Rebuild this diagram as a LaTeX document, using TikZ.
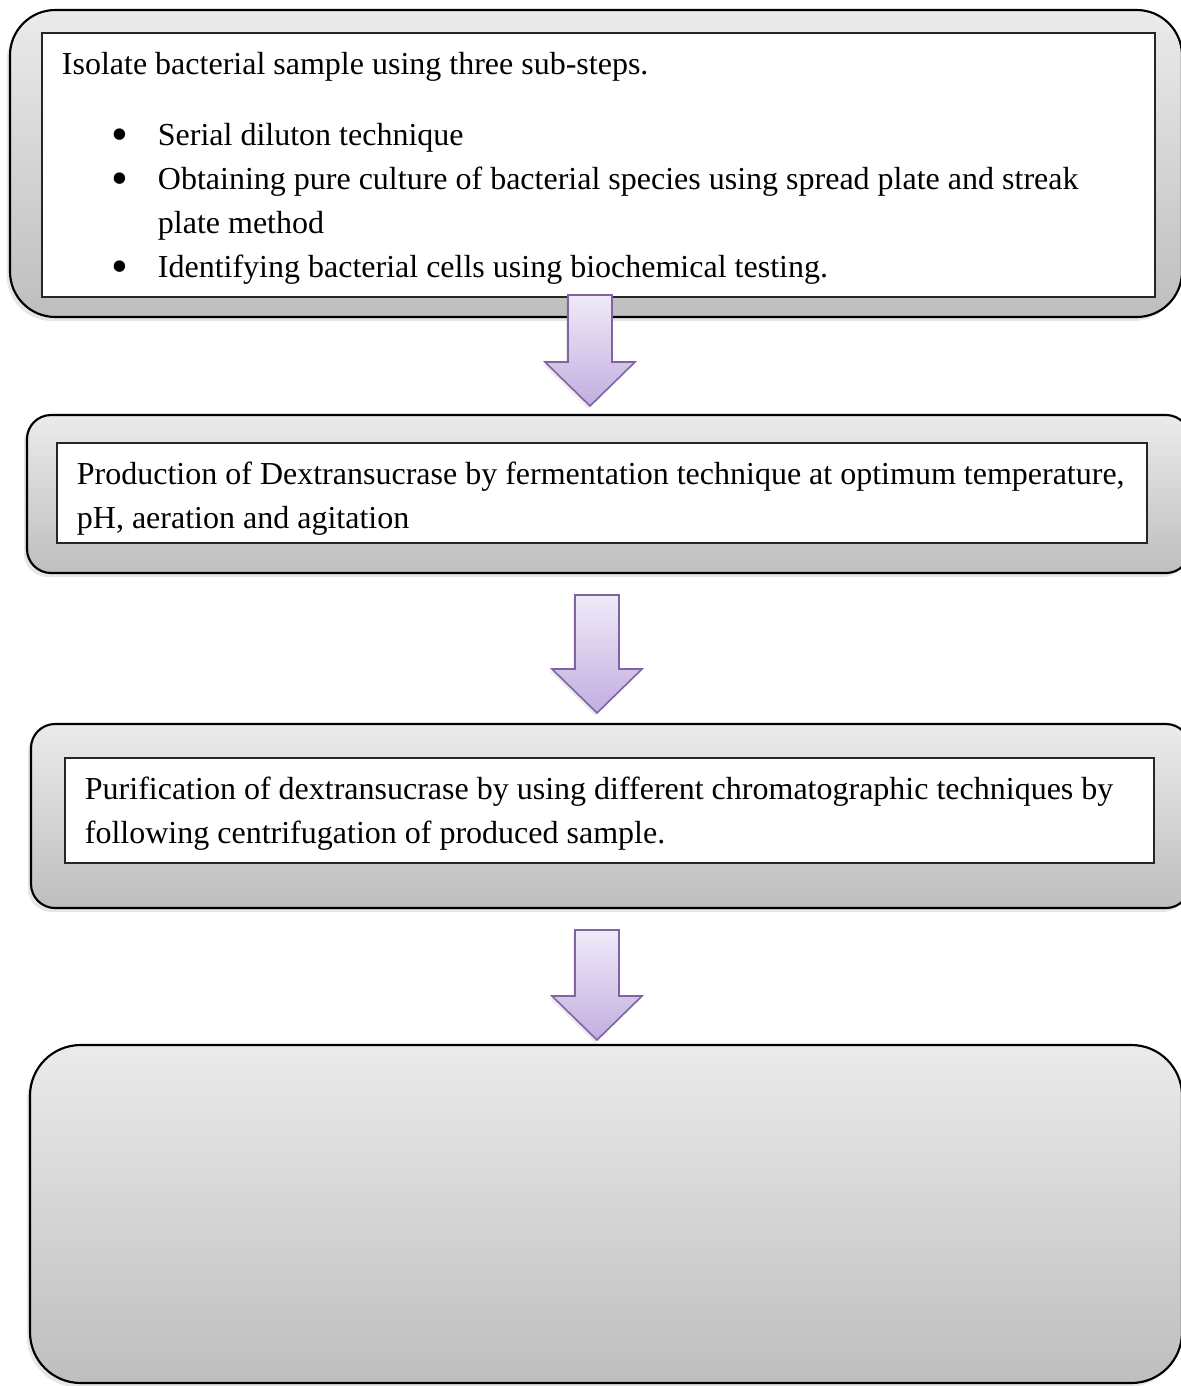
\documentclass[tikz,border=0pt]{standalone}
\usepackage{fontspec}
\setmainfont{Liberation Serif}
\usetikzlibrary{fit,shadows}
\definecolor{BoxTop}{HTML}{EBEBEB}
\definecolor{BoxBottom}{HTML}{BEBEBE}
\definecolor{ArrowTop}{HTML}{EFEAF8}
\definecolor{ArrowBottom}{HTML}{C2AEE0}
\definecolor{ArrowLine}{HTML}{8064A2}
\newcommand{\stepbullet}{\hspace*{18.75pt}\makebox[17.25pt][l]{\raisebox{-2pt}{\scalebox{1.5}{\textbullet}}}}

\begin{document}
\begin{tikzpicture}[x=0.375pt,y=-0.375pt,
outer/.style={draw=black,line width=0.8pt,top color=BoxTop,bottom color=BoxBottom,inner sep=0pt,
  drop shadow={shadow xshift=-1.2pt,shadow yshift=-1.5pt,opacity=0.2}},
frame/.style={draw=black!85,line width=0.45pt,fill=white,inner sep=0pt},
txt/.style={anchor=west,align=left,inner sep=0pt,font=\fontsize{12pt}{16.5pt}\selectfont},
blockarr/.style={draw=ArrowLine,line width=0.6pt,top color=ArrowTop,bottom color=ArrowBottom,
  drop shadow={shadow xshift=-0.8pt,shadow yshift=-1pt,opacity=0.15}}]
\useasboundingbox (0,0) rectangle (1181,1386);
% outer rounded boxes
\node[outer,rounded corners=17pt,fit={(10,10) (1182,317)}] (b1) {};
\node[outer,rounded corners=9pt,fit={(27,415) (1190,573)}] (b2) {};
\node[outer,rounded corners=9pt,fit={(31,724) (1190,908)}] (b3) {};
\node[outer,rounded corners=19pt,fit={(30,1045) (1182,1383)}] (b4) {};
% white text frames
\node[frame,fit={(42,33) (1155,297)}] (r1) {};
\node[frame,fit={(57,443) (1147,543)}] (r2) {};
\node[frame,fit={(65,758) (1154,863)}] (r3) {};
\node[txt] (s1) at ([xshift=7.5pt,yshift=-1.3pt]r1.west) {Isolate bacterial sample using three sub-steps.\\[10pt]
\stepbullet Serial diluton technique\\
\stepbullet Obtaining pure culture of bacterial species using spread plate and streak\\
\hspace*{36pt}plate method\\
\stepbullet Identifying bacterial cells using biochemical testing.};
\node[txt] (s2) at ([xshift=7.5pt,yshift=-2.2pt]r2.west) {Production of Dextransucrase by fermentation technique at optimum temperature,\\
pH, aeration and agitation};
\node[txt] (s3) at ([xshift=7.5pt,yshift=-1.1pt]r3.west) {Purification of dextransucrase by using different chromatographic techniques by\\
following centrifugation of produced sample.};
% block arrows
\foreach \cx/\ta/\tb/\tc in {590/295/362/406,597/595/669/713,597/930/996/1040}{
\draw[blockarr] (\cx-22,\ta) -- (\cx+22,\ta) -- (\cx+22,\tb) -- (\cx+45,\tb) -- (\cx,\tc)
  -- (\cx-45,\tb) -- (\cx-22,\tb) -- cycle;}
\end{tikzpicture}
\end{document}
